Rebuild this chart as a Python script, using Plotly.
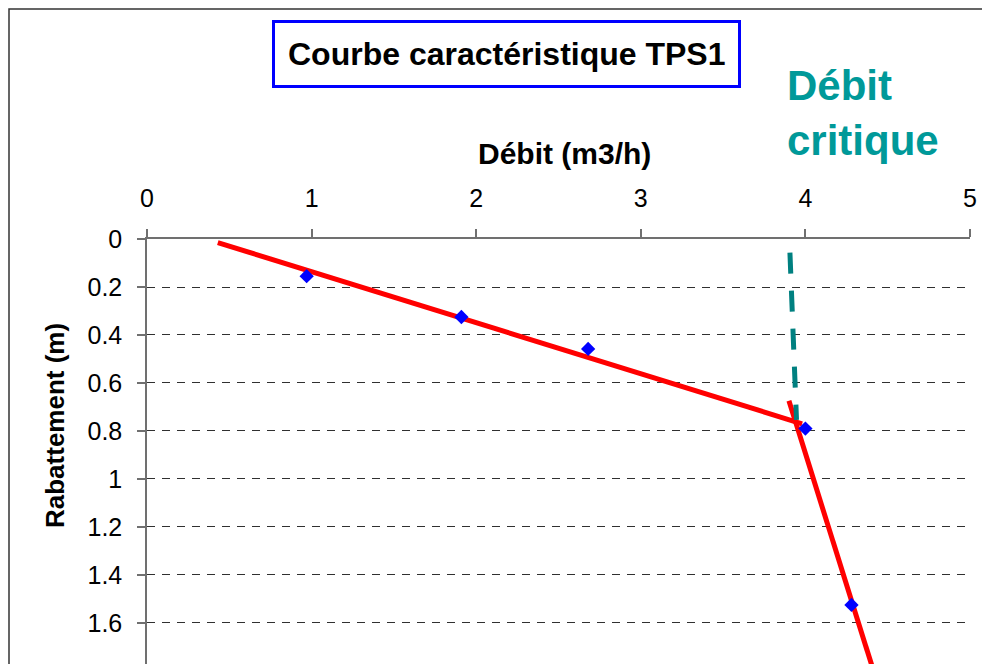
import plotly.graph_objects as go

# Data
debit = [0.97, 1.91, 2.68, 4.0, 4.28]
rabattement = [0.155, 0.325, 0.458, 0.79, 1.525]

trend1_x = [0.43, 3.98]
trend1_y = [0.015, 0.77]
trend2_x = [3.90, 4.414]
trend2_y = [0.674, 1.80]
critique_x = [3.906, 3.946]
critique_y = [0.057, 0.754]

x_ticks = [0, 1, 2, 3, 4, 5]
y_ticks = [0, 0.2, 0.4, 0.6, 0.8, 1, 1.2, 1.4, 1.6]
y_tick_text = ["0", "0.2", "0.4", "0.6", "0.8", "1", "1.2", "1.4", "1.6"]

W, H = 982, 664
L, R, T, B = 147, 12, 239, 0
pw, ph = W - L - R, H - T - B

def px_x(p):
    return (p - L) / pw

def px_y(p):
    return (H - B - p) / ph

fig = go.Figure()
fig.add_trace(go.Scatter(x=trend1_x, y=trend1_y, mode="lines",
                         line=dict(color="#FF0000", width=5), showlegend=False))
fig.add_trace(go.Scatter(x=trend2_x, y=trend2_y, mode="lines",
                         line=dict(color="#FF0000", width=5), showlegend=False))
fig.add_trace(go.Scatter(x=critique_x, y=critique_y, mode="lines",
                         line=dict(color="#008080", width=5, dash="21px,17px"),
                         showlegend=False))
fig.add_trace(go.Scatter(x=debit, y=rabattement, mode="markers",
                         marker=dict(symbol="diamond", size=11, color="#0000FF"),
                         showlegend=False))

font_family = "Liberation Sans, Arial, sans-serif"

fig.update_layout(
    width=W, height=H,
    margin=dict(l=L, r=R, t=T, b=B, pad=0),
    paper_bgcolor="white", plot_bgcolor="white",
    font=dict(family=font_family, color="black"),
    xaxis=dict(
        range=[0, 5], side="top", tickvals=x_ticks,
        showline=True, linecolor="#707070", linewidth=1.5,
        ticks="outside", ticklen=8, tickcolor="#707070", tickwidth=1.5,
        showgrid=False, zeroline=False,
        tickfont=dict(size=25, family=font_family, color="black"),
        ticklabelstandoff=12,
    ),
    yaxis=dict(
        range=[1.771, 0], tickvals=y_ticks, ticktext=y_tick_text,
        showline=True, linecolor="#707070", linewidth=1.5,
        ticks="outside", ticklen=8, tickcolor="#707070", tickwidth=1.5,
        showgrid=True, gridcolor="#303030", gridwidth=1, griddash="8px,7px",
        zeroline=False,
        tickfont=dict(size=25, family=font_family, color="black"),
        ticklabelstandoff=10,
    ),
    shapes=[
        dict(type="rect", xref="paper", yref="paper",
             x0=px_x(9), x1=px_x(1010), y0=px_y(720), y1=px_y(9),
             line=dict(color="#333333", width=1.5), fillcolor="rgba(0,0,0,0)",
             layer="below"),
    ],
    annotations=[
        dict(text="<b>Courbe caractéristique TPS1</b>", xref="paper", yref="paper",
             x=px_x(506), y=px_y(54), xanchor="center", yanchor="middle",
             showarrow=False, font=dict(size=32, family=font_family, color="black"),
             bordercolor="#0000FF", borderwidth=3, borderpad=13, bgcolor="white"),
        dict(text="<b>Débit<br>critique</b>", xref="paper", yref="paper",
             x=px_x(785), y=px_y(113), xanchor="left", yanchor="middle", align="left",
             showarrow=False, font=dict(size=42, family=font_family, color="#009999")),
        dict(text="<b>Débit (m3/h)</b>", xref="paper", yref="paper",
             x=px_x(564), y=px_y(153), xanchor="center", yanchor="middle",
             showarrow=False, font=dict(size=30, family=font_family, color="black")),
        dict(text="<b>Rabattement (m)</b>", xref="paper", yref="paper",
             x=px_x(55), y=px_y(426), xanchor="center", yanchor="middle",
             textangle=-90,
             showarrow=False, font=dict(size=26, family=font_family, color="black")),
    ],
)

fig.write_html(
    "out.html",
    config={"displayModeBar": False},
    post_script="document.body.style.margin='0';"
                "document.documentElement.style.overflow='hidden';",
)
